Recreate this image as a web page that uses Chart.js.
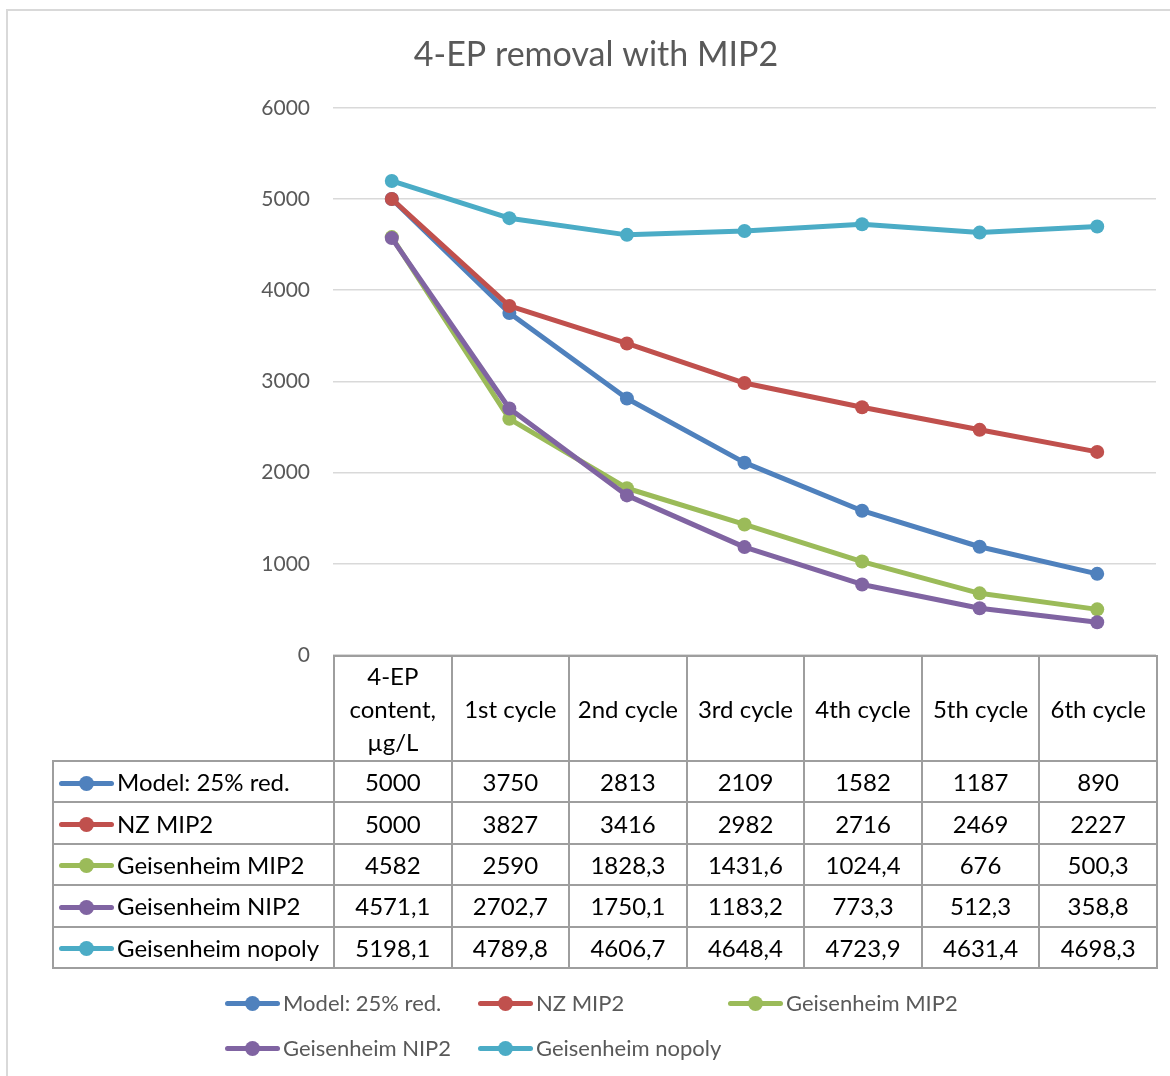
<!DOCTYPE html>
<html lang="en">

<head>
  <meta charset="UTF-8">
  <title>4-EP removal with MIP2</title>
  <script src="https://cdn.jsdelivr.net/npm/chart.js"></script>
  <style>
    html, body {
      margin: 0;
      padding: 0;
      background: white;
    }

    .wrap {
      position: relative;
      width: 1170px;
      height: 1076px;
      overflow: hidden;
      font-family: Lato, sans-serif;
    }

    .frame {
      position: absolute;
      left: 6px;
      top: 9px;
      width: 1200px;
      height: 1200px;
      border-left: 2px solid #d9d9d9;
      border-top: 2px solid #d9d9d9;
    }

    #chartBox {
      position: absolute;
      left: 0;
      top: 0;
      width: 1170px;
      height: 1076px;
    }

    #dataTable {
      position: absolute;
      border-collapse: collapse;
      table-layout: fixed;
      font-size: 24px;
      color: #000;
    }

    #dataTable td {
      border: 2px solid #9e9e9e;
      text-align: center;
      padding: 0 3px;
      line-height: 33px;
      white-space: normal;
    }

    #dataTable td.blank {
      border: none;
    }

    #dataTable td.name {
      text-align: left;
      padding-left: 5px;
      white-space: nowrap;
    }

    .key {
      display: inline-block;
      position: relative;
      width: 55px;
      height: 5px;
      border-radius: 3px;
      vertical-align: middle;
      margin-right: 3px;
      top: -2px;
    }

    .key::after {
      content: '';
      position: absolute;
      left: 20px;
      top: -5px;
      width: 15px;
      height: 15px;
      border-radius: 50%;
      background: inherit;
    }

    #legend {
      position: absolute;
      left: 225px;
      top: 986px;
      width: 780px;
      display: grid;
      grid-template-columns: 253px 250px 260px;
      row-gap: 11px;
      font-size: 22px;
      color: #595959;
    }

    #legend div {
      white-space: nowrap;
      line-height: 34px;
    }
  </style>
</head>

<body>
  <div class="wrap">
    <div class="frame"></div>
    <div id="chartBox">
      <canvas id="removalChart"></canvas>
    </div>
    <table id="dataTable"></table>
    <div id="legend"></div>
  </div>

  <script>
    const stages = ['4-EP content, µg/L', '1st cycle', '2nd cycle', '3rd cycle', '4th cycle', '5th cycle', '6th cycle'];

    const seriesNames = ['Model: 25% red.', 'NZ MIP2', 'Geisenheim MIP2', 'Geisenheim NIP2', 'Geisenheim nopoly'];
    const modelReduction = [5000, 3750, 2813, 2109, 1582, 1187, 890];
    const nzMip2 = [5000, 3827, 3416, 2982, 2716, 2469, 2227];
    const geisenheimMip2 = [4582, 2590, 1828.3, 1431.6, 1024.4, 676, 500.3];
    const geisenheimNip2 = [4571.1, 2702.7, 1750.1, 1183.2, 773.3, 512.3, 358.8];
    const geisenheimNopoly = [5198.1, 4789.8, 4606.7, 4648.4, 4723.9, 4631.4, 4698.3];

    const yTicks = [0, 1000, 2000, 3000, 4000, 5000, 6000];

    const seriesValues = [modelReduction, nzMip2, geisenheimMip2, geisenheimNip2, geisenheimNopoly];
    const colors = ['#4f81bd', '#c0504d', '#9bbb59', '#8064a2', '#4bacc6'];

    const ctx = document.getElementById('removalChart').getContext('2d');
    const chart = new Chart(ctx, {
      type: 'line',
      data: {
        labels: stages,
        datasets: seriesNames.map((name, i) => ({
          label: name,
          data: seriesValues[i],
          borderColor: colors[i],
          backgroundColor: colors[i],
          borderWidth: 5,
          pointRadius: 7,
          pointBorderWidth: 0,
          pointHoverRadius: 7,
          borderJoinStyle: 'round',
          borderCapStyle: 'round',
          tension: 0,
          // later series sit on top, like the spreadsheet draws them
          order: seriesNames.length - i
        }))
      },
      options: {
        responsive: true,
        maintainAspectRatio: false,
        animation: false,
        layout: {
          padding: { top: 0, left: 36, right: 14, bottom: 421 }
        },
        plugins: {
          legend: { display: false },
          tooltip: { enabled: false },
          title: {
            display: true,
            text: '4-EP removal with MIP2',
            color: '#595959',
            font: { family: 'Lato', size: 34, weight: 'normal' },
            padding: { top: 35, bottom: 32 }
          }
        },
        scales: {
          x: {
            display: false,
            offset: true
          },
          y: {
            min: 0,
            max: 6000,
            afterFit: (scale) => { scale.width = 297; },
            afterBuildTicks: (scale) => { scale.ticks = yTicks.map(v => ({ value: v })); },
            border: { display: false },
            grid: { color: '#d9d9d9', lineWidth: 1.5, drawTicks: false },
            ticks: {
              padding: 23,
              color: '#595959',
              font: { family: 'Lato', size: 21 },
              callback: (v) => String(v)
            }
          }
        }
      }
    });

    // data table under the plot, columns lined up with the category slots
    const area = chart.chartArea;
    const table = document.getElementById('dataTable');
    const tableLeft = 52;
    const colWidth = (area.right - area.left) / stages.length;
    table.style.left = tableLeft + 'px';
    table.style.top = area.bottom + 'px';
    table.style.width = (area.right - tableLeft) + 'px';

    const fmt = v => String(v).replace('.', ',');

    let html = '<colgroup><col style="width:' + (area.left - tableLeft) + 'px">';
    stages.forEach(() => { html += '<col style="width:' + colWidth + 'px">'; });
    html += '</colgroup>';
    html += '<tr style="height:105px"><td class="blank"></td>';
    stages.forEach(s => { html += '<td>' + s + '</td>'; });
    html += '</tr>';
    seriesNames.forEach((name, i) => {
      html += '<tr style="height:41.4px"><td class="name"><span class="key" style="background:' + colors[i] + '"></span>' + name + '</td>';
      seriesValues[i].forEach(v => { html += '<td>' + fmt(v) + '</td>'; });
      html += '</tr>';
    });
    table.innerHTML = html;

    const legend = document.getElementById('legend');
    legend.innerHTML = seriesNames.map((name, i) =>
      '<div><span class="key" style="background:' + colors[i] + '"></span>' + name + '</div>'
    ).join('');
  </script>
</body>

</html>
